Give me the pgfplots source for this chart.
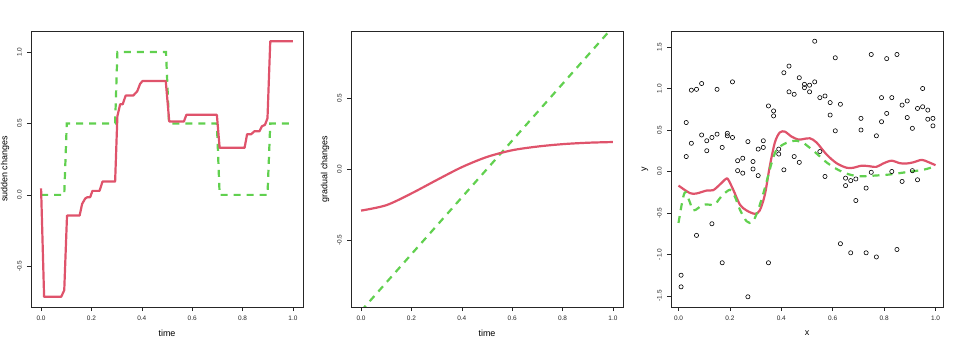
\documentclass[border=0pt]{standalone}
\usepackage{fontspec}
\setmainfont{Liberation Sans}
\usepackage{pgfplots}
\pgfplotsset{compat=1.18}

\definecolor{rred}{HTML}{DF536B}
\definecolor{rgreen}{HTML}{61D04F}

\pgfplotsset{
  rbase/.style={
    width=272bp, height=276bp, scale only axis,
    anchor=south west,
    axis line style={line width=0.8bp, black!85},
    tick align=outside, xtick pos=bottom, ytick pos=left,
    major tick length=4bp,
    tick style={line width=0.6bp, black!85},
    xmin=-0.04, xmax=1.04,
    xtick={0,0.2,0.4,0.6,0.8,1},
    /pgf/number format/assume math mode=true,
    /pgf/number format/fixed,
    /pgf/number format/fixed zerofill,
    /pgf/number format/precision=1,
    ticklabel style={font=\fontsize{6.5}{7}\selectfont, text=black!85},
    xticklabel style={anchor=north, inner sep=0pt, yshift=-5bp},
    yticklabel style={rotate=90, anchor=south, inner sep=0pt},
    yticklabel shift=5bp,
    every axis x label/.style={at={(axis description cs:0.5,-0.094)}, anchor=center,
      font=\fontsize{9}{10}\selectfont},
    every axis y label/.style={at={(axis description cs:-0.0956,0.5)}, anchor=center,
      rotate=90, font=\fontsize{9}{10}\selectfont},
  },
  redline/.style={rred, line width=2.2bp, line join=round},
  greenline/.style={rgreen, line width=2.2bp, dash pattern=on 7bp off 6bp},
}

\begin{document}
\begin{tikzpicture}
\useasboundingbox (0,0) rectangle (959bp,347bp);

% panel 1: sudden changes
\begin{axis}[rbase, at={(31bp,40bp)},
  ymin=-0.7845, ymax=1.1465, ytick={-0.5,0,0.5,1},
  xlabel={time}, ylabel={sudden changes}]
\addplot[greenline] coordinates {
  (0,0) (0.092,0) (0.102,0.5) (0.294,0.5) (0.303,1) (0.496,1) (0.508,0.5)
  (0.698,0.5) (0.709,0) (0.899,0) (0.910,0.5) (1,0.5)};
\addplot[redline] coordinates {
  (0,0.045) (0.012,-0.713) (0.080,-0.713) (0.092,-0.667) (0.103,-0.145)
  (0.153,-0.145) (0.163,-0.063) (0.175,-0.026) (0.184,-0.016) (0.195,-0.016)
  (0.204,0.028) (0.232,0.028) (0.244,0.093) (0.294,0.093) (0.303,0.55)
  (0.314,0.634) (0.324,0.634) (0.336,0.695) (0.366,0.695) (0.382,0.725)
  (0.393,0.776) (0.403,0.797) (0.495,0.797) (0.509,0.513) (0.567,0.513)
  (0.577,0.56) (0.698,0.56) (0.709,0.329) (0.808,0.329) (0.818,0.424)
  (0.834,0.424) (0.847,0.445) (0.867,0.445) (0.877,0.48) (0.889,0.49)
  (0.899,0.536) (0.910,1.075) (1,1.075)};
\end{axis}

% panel 2: gradual changes
\begin{axis}[rbase, at={(351bp,40bp)},
  ymin=-0.972, ymax=0.972, ytick={-0.5,0,0.5},
  xlabel={time}, ylabel={gradual changes}]
\addplot[greenline] coordinates {(0,-1) (1,1)};
\addplot[redline, smooth] coordinates {
  (0,-0.293) (0.1,-0.255) (0.2,-0.172) (0.3,-0.078) (0.4,0.013) (0.5,0.085)
  (0.6,0.132) (0.7,0.158) (0.8,0.175) (0.9,0.185) (1,0.19)};
\end{axis}

% panel 3: scatter with smooths
\begin{axis}[rbase, at={(671bp,40bp)},
  xmin=-0.0292, xmax=1.0292,
  ymin=-1.633, ymax=1.693, ytick={-1.5,-1,-0.5,0,0.5,1,1.5},
  xlabel={x}, ylabel={y}]
\addplot[only marks, mark=o, mark size=2.1bp, black, mark options={line width=0.6bp}]
  coordinates {
  (0.01,-1.25) (0.01,-1.39) (0.03,0.59) (0.03,0.18) (0.05,0.98) (0.05,0.34)
  (0.07,0.99) (0.07,-0.77) (0.09,1.06) (0.09,0.44) (0.11,0.37) (0.11,0.25)
  (0.13,0.41) (0.13,-0.63) (0.15,0.99) (0.15,0.45) (0.17,0.29) (0.17,-1.10)
  (0.19,0.46) (0.19,0.43) (0.21,1.08) (0.21,0.41) (0.23,0.13) (0.23,0.01)
  (0.25,0.16) (0.25,-0.02) (0.27,0.36) (0.27,-1.51) (0.29,0.12) (0.29,0.03)
  (0.31,0.27) (0.31,-0.05) (0.33,0.37) (0.33,0.29) (0.35,0.79) (0.35,-1.10)
  (0.37,0.73) (0.37,0.67) (0.39,0.27) (0.39,0.21) (0.41,1.19) (0.41,0.02)
  (0.43,1.27) (0.43,0.96) (0.45,0.93) (0.45,0.18) (0.47,1.13) (0.47,0.11)
  (0.49,1.05) (0.49,1.01) (0.51,1.04) (0.51,0.96) (0.53,1.57) (0.53,1.08)
  (0.55,0.89) (0.55,0.24) (0.57,0.91) (0.57,-0.06) (0.59,0.83) (0.59,0.68)
  (0.61,1.37) (0.61,0.49) (0.63,0.81) (0.63,-0.87) (0.65,-0.08) (0.65,-0.17)
  (0.67,-0.11) (0.67,-0.98) (0.69,-0.09) (0.69,-0.35) (0.71,0.64) (0.71,0.50)
  (0.73,-0.20) (0.73,-0.98) (0.75,1.41) (0.75,-0.01) (0.77,0.43) (0.77,-1.03)
  (0.79,0.89) (0.79,0.60) (0.81,1.36) (0.81,0.70) (0.83,0.89) (0.83,0.00)
  (0.85,1.41) (0.85,-0.94) (0.87,0.80) (0.87,-0.12) (0.89,0.85) (0.89,0.65)
  (0.91,0.52) (0.91,0.01) (0.93,0.76) (0.93,-0.10) (0.95,1.00) (0.95,0.78)
  (0.97,0.74) (0.97,0.63) (0.99,0.64) (0.99,0.55)};
\addplot[redline, smooth, tension=0.5] coordinates {
  (0,-0.17) (0.044,-0.26) (0.07,-0.265) (0.109,-0.23) (0.135,-0.225)
  (0.16,-0.16) (0.184,-0.09) (0.193,-0.095) (0.213,-0.22) (0.239,-0.40)
  (0.265,-0.47) (0.297,-0.51) (0.316,-0.47) (0.336,-0.28) (0.355,0.06)
  (0.375,0.35) (0.394,0.47) (0.414,0.48) (0.44,0.42) (0.466,0.385)
  (0.485,0.39) (0.511,0.40) (0.537,0.35) (0.576,0.205) (0.615,0.10)
  (0.654,0.045) (0.68,0.045) (0.712,0.07) (0.738,0.065) (0.77,0.056)
  (0.796,0.096) (0.829,0.13) (0.861,0.10) (0.887,0.096) (0.913,0.11)
  (0.946,0.14) (0.97,0.116) (1,0.076)};
\addplot[greenline, smooth, tension=0.5] coordinates {
  (0,-0.62) (0.016,-0.34) (0.027,-0.25) (0.044,-0.37) (0.057,-0.47)
  (0.077,-0.44) (0.096,-0.40) (0.122,-0.40) (0.141,-0.40) (0.167,-0.30)
  (0.2,-0.22) (0.219,-0.30) (0.239,-0.46) (0.265,-0.60) (0.288,-0.61)
  (0.31,-0.46) (0.336,-0.20) (0.362,0.10) (0.381,0.26) (0.407,0.325)
  (0.433,0.36) (0.46,0.37) (0.485,0.345) (0.511,0.285) (0.537,0.217)
  (0.576,0.11) (0.615,0.03) (0.654,-0.025) (0.693,-0.056) (0.73,-0.056)
  (0.77,-0.048) (0.81,-0.04) (0.848,-0.025) (0.887,-0.008) (0.926,0.008)
  (0.965,0.03) (1,0.065)};
\end{axis}
\end{tikzpicture}
\end{document}
